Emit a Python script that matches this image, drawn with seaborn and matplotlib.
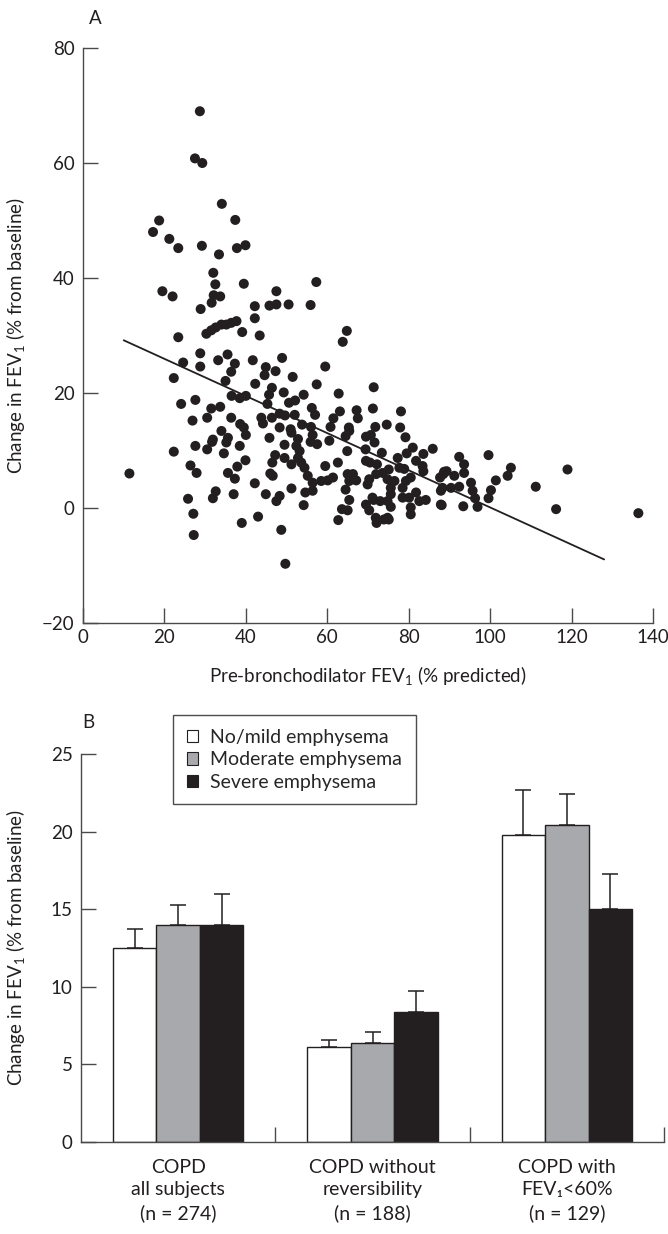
import numpy as np
import pandas as pd
import matplotlib
matplotlib.use("Agg")
import matplotlib.pyplot as plt
import seaborn as sns

# ---------------- Data ----------------
# Panel A: pre-bronchodilator FEV1 (% predicted) vs change in FEV1 (% from baseline)
fev1_pred = [
    28.7, 27.5, 29.3, 34.1, 18.7, 37.4, 17.2, 21.2, 23.4, 29.2, 33.4, 37.8, 39.9, 32.0, 32.5, 39.5, 19.5, 47.5,
    22.0, 32.1, 33.7, 31.6, 28.9, 42.2, 45.8, 47.5, 42.2, 37.7, 36.4, 35.2, 34.0, 32.6, 31.5, 30.3, 39.1, 43.4,
    23.4, 28.8, 35.5, 33.2, 37.3, 24.6, 28.8, 41.7, 44.9, 44.6, 47.3, 36.4, 22.3, 35.0, 42.3, 46.4, 36.5, 38.5,
    40.0, 45.7, 45.3, 27.6, 24.1, 31.5, 33.7, 26.9, 30.5, 36.4, 38.6, 39.5, 40.0, 43.8, 44.2, 46.4, 48.3, 34.0,
    35.6, 31.9, 45.8,
    27.6, 22.3, 30.5, 31.7, 35.2, 38.5, 34.6, 47.2, 46.5, 39.9, 37.9, 11.4, 26.4, 27.9, 35.6, 37.3, 42.2, 46.0,
    46.6, 32.6, 31.9, 37.0, 25.8, 44.9, 47.5, 48.3, 27.1, 43.0, 39.0, 27.2, 48.7,
    57.3, 50.5, 55.9, 64.8, 63.8, 48.9, 59.5, 51.5, 57.4, 71.4, 49.3, 54.2, 62.8, 50.6, 52.1, 56.2, 57.0, 71.2,
    78.1, 63.1, 61.5, 67.2, 67.5, 48.3, 49.6, 52.0, 74.6, 71.8, 53.8, 51.0, 56.0, 60.8, 65.3, 77.9,
    51.2, 56.4, 55.9, 57.5, 52.8, 52.4, 53.2, 49.5, 60.5, 64.5, 65.4, 69.5, 70.7, 71.6, 79.2, 69.4, 64.9, 73.4,
    81.0, 79.5, 83.6, 85.9, 49.5, 52.8, 53.6, 54.4, 51.2, 62.6, 59.5, 69.5, 70.5, 72.2, 75.1, 77.7, 78.9, 77.3,
    81.8, 83.4, 83.6, 55.2, 56.4, 58.5, 60.1, 61.4, 65.0, 66.3, 65.4, 67.1, 70.3, 72.0, 73.6, 74.8, 76.5, 69.9,
    79.3, 80.5, 88.5, 87.9, 51.2, 54.6, 56.4, 64.5, 75.6, 74.8, 78.5, 80.1, 81.8, 84.2, 54.2, 65.4, 71.4, 73.0,
    69.5, 70.3, 63.6, 65.0, 80.5, 80.5, 87.9, 62.7, 72.1, 73.9, 75.1, 49.7,
    99.6, 92.4, 93.6, 88.7, 91.2, 93.6, 95.3, 105.1, 104.3, 101.4, 100.2, 99.6, 119.0, 111.2, 116.2, 136.4,
    88.3, 90.4, 92.4, 95.7, 96.3, 96.9, 88.1, 93.4,
    75.6, 78.5, 71.1, 75.6, 82.6, 71.9, 74.8, 89.3, 87.7,
]
fev1_change = [
    69.0, 60.8, 60.0, 52.9, 50.0, 50.1, 48.0, 46.8, 45.2, 45.6, 44.1, 45.2, 45.7, 40.9, 38.9, 39.0, 37.7, 37.7,
    36.8, 37.0, 36.8, 35.7, 34.6, 35.1, 35.2, 35.4, 33.0, 32.5, 32.2, 31.9, 31.9, 31.4, 30.9, 30.3, 30.6, 30.0,
    29.7, 26.9, 26.7, 25.7, 25.1, 25.3, 24.6, 25.7, 24.5, 23.1, 23.8, 23.7, 22.6, 22.1, 21.6, 20.9, 19.5, 19.1,
    19.5, 19.7, 18.1, 18.8, 18.1, 17.3, 17.6, 15.2, 15.7, 15.7, 14.6, 14.0, 12.7, 15.7, 14.7, 15.7, 14.0, 13.4,
    12.2, 11.9, 12.2,
    10.8, 9.8, 10.2, 11.5, 11.4, 10.8, 9.5, 9.2, 7.9, 8.3, 7.2, 6.0, 7.4, 6.1, 6.1, 5.1, 4.3, 6.0,
    5.6, 2.9, 1.7, 2.4, 1.6, 2.4, 1.2, 2.1, -1.0, -1.5, -2.6, -4.7, -3.8,
    39.3, 35.4, 35.3, 30.8, 28.9, 26.1, 24.6, 22.8, 21.5, 21.0, 20.1, 19.7, 19.9, 18.3, 18.7, 17.4, 16.2, 17.3,
    16.8, 16.8, 15.6, 17.0, 15.6, 16.4, 16.1, 16.2, 14.5, 14.1, 14.5, 13.7, 14.1, 14.1, 14.0, 14.0,
    13.1, 12.7, 11.5, 11.1, 12.0, 10.8, 9.9, 11.0, 11.7, 12.5, 13.4, 12.4, 12.7, 11.4, 12.3, 10.2, 9.9, 9.6,
    10.5, 9.5, 9.4, 10.3, 8.7, 8.7, 7.9, 7.0, 7.6, 7.9, 7.3, 8.2, 7.9, 7.6, 6.7, 7.0, 6.8, 8.7,
    8.2, 7.3, 6.4, 5.6, 4.4, 4.7, 4.8, 5.3, 5.9, 5.9, 4.7, 4.8, 5.0, 5.9, 6.1, 5.0, 4.7, 4.1,
    4.7, 5.3, 5.9, 3.0, 3.4, 2.7, 3.0, 3.2, 2.4, 1.2, 1.8, 1.8, 2.7, 1.4, 0.5, 1.4, 1.4, 1.2,
    0.6, -0.4, -0.2, -0.4, 0.1, -1.1, 0.6, -2.1, -2.6, -2.0, -2.0, -9.7,
    9.2, 8.9, 7.6, 6.3, 5.6, 6.1, 4.4, 7.0, 5.6, 4.8, 3.1, 1.7, 6.7, 3.7, -0.2, -0.9,
    3.5, 3.5, 3.7, 3.0, 1.7, 0.2, 0.5, 0.3,
    3.5, 3.5, 1.8, 0.2, 1.2, -1.7, -1.7, 6.4, 5.3,
]
# regression line shown in panel A
fit_intercept = 32.4
fit_slope = -0.323
fit_x_range = [10, 128]

# Panel B
groups = ["COPD\nall subjects\n(n = 274)",
          "COPD without\nreversibility\n(n = 188)",
          "COPD with\nFEV\u2081<60%\n(n = 129)"]
severity = ["No/mild emphysema", "Moderate emphysema", "Severe emphysema"]
means_mild = [12.5, 6.1, 19.8]
means_moderate = [14.0, 6.4, 20.4]
means_severe = [14.0, 8.4, 15.0]
sem_mild = [1.2, 0.5, 2.9]
sem_moderate = [1.3, 0.7, 2.0]
sem_severe = [2.0, 1.3, 2.3]

# ---------------- Style ----------------
sns.set_theme(style="white")
plt.rcParams["font.family"] = ["Lato", "DejaVu Sans"]
plt.rcParams["mathtext.fontset"] = "custom"
plt.rcParams["mathtext.rm"] = "Lato"
plt.rcParams["mathtext.it"] = "Lato"
plt.rcParams["mathtext.default"] = "rm"

INK = "#231f20"
AX = "#4a4a4a"
FS = 13.5

fig = plt.figure(figsize=(6.68, 12.34), dpi=100)
W, H = 668, 1234


def rect(l, t, r, b):
    return [l / W, 1 - b / H, (r - l) / W, (b - t) / H]


# ---------------- Panel A ----------------
axA = fig.add_axes(rect(83, 48, 653, 623))
dfA = pd.DataFrame({"fev1": fev1_pred, "change": fev1_change})
sns.scatterplot(data=dfA, x="fev1", y="change", ax=axA, s=52, color=INK,
                edgecolor="none", linewidth=0, zorder=3)
fx = np.array(fit_x_range, dtype=float)
sns.lineplot(x=fx, y=fit_intercept + fit_slope * fx, ax=axA, color=INK, lw=1.3, zorder=2)
axA.set_xlim(0, 140)
axA.set_ylim(-20, 80)
axA.set_xticks(np.arange(0, 141, 20))
axA.set_yticks(np.arange(-20, 81, 20))
axA.set_xlabel("Pre-bronchodilator FEV$_1$ (% predicted)", fontsize=FS, color=INK)
axA.set_ylabel("Change in FEV$_1$ (% from baseline)", fontsize=FS, color=INK)
axA.xaxis.set_label_coords(0.5, -0.072)
axA.yaxis.set_label_coords(-0.098, 0.5)

# ---------------- Panel B ----------------
axB = fig.add_axes(rect(81, 754, 664, 1142))
rows = []
for g, m1, m2, m3 in zip(groups, means_mild, means_moderate, means_severe):
    rows += [(g, severity[0], m1), (g, severity[1], m2), (g, severity[2], m3)]
dfB = pd.DataFrame(rows, columns=["group", "severity", "value"])
palette = {severity[0]: "white", severity[1]: "#a7a9ac", severity[2]: INK}
sns.barplot(data=dfB, x="group", y="value", hue="severity", order=groups,
            hue_order=severity, palette=palette, width=0.67, gap=0,
            edgecolor=INK, linewidth=1.0, errorbar=None, ax=axB, saturation=1)

for cont, means, sems in zip(axB.containers, [means_mild, means_moderate, means_severe],
                             [sem_mild, sem_moderate, sem_severe]):
    xs = [p.get_x() + p.get_width() / 2 for p in cont.patches]
    axB.errorbar(xs, means, yerr=[np.zeros(len(sems)), sems], fmt="none",
                 ecolor=INK, elinewidth=1.1, capsize=5.5, capthick=1.1, zorder=1)

axB.set_xlim(-0.5, 2.5)
axB.set_ylim(0, 25)
axB.set_yticks(np.arange(0, 26, 5))
axB.set_xlabel("")
axB.set_ylabel("Change in FEV$_1$ (% from baseline)", fontsize=FS, color=INK)
axB.yaxis.set_label_coords(-0.093, 0.5)
axB.set_xticks([0, 1, 2])
axB.set_xticklabels(groups, fontsize=14, color=INK, linespacing=1.4)
axB.set_xticks([0.5, 1.5, 2.5], minor=True)
axB.tick_params(axis="x", which="major", length=0, pad=12)
axB.tick_params(axis="x", which="minor", direction="in", length=11, width=1, color=AX, bottom=True)

handles, labels = axB.get_legend_handles_labels()
leg = axB.legend(handles, labels, loc="upper left", bbox_to_anchor=(0.158, 1.10),
                 bbox_transform=axB.transAxes, borderaxespad=0, frameon=True,
                 fancybox=False, edgecolor=INK, fontsize=14, handlelength=0.6,
                 handleheight=0.6, handletextpad=0.6, labelspacing=0.28,
                 borderpad=0.7, title=None)
leg.get_frame().set_linewidth(1.0)
for h in leg.legend_handles:
    h.set_edgecolor(INK)
    h.set_linewidth(0.8)

# common axis styling
for ax in (axA, axB):
    sns.despine(ax=ax)
    for sp in ("left", "bottom"):
        ax.spines[sp].set_color(AX)
        ax.spines[sp].set_linewidth(1.0)
    ax.tick_params(axis="y", which="major", direction="in", length=11, width=1,
                   color=AX, labelsize=FS, labelcolor=INK, pad=6, left=True)
axA.tick_params(axis="x", which="major", direction="in", length=11, width=1,
                color=AX, labelsize=FS, labelcolor=INK, pad=4, bottom=True)

fig.text(95 / W, 1 - 18 / H, "A", fontsize=FS, color=INK, ha="center", va="center")
fig.text(88 / W, 1 - 722 / H, "B", fontsize=FS, color=INK, ha="center", va="center")

fig.savefig("out.png", dpi=100, facecolor="white")
